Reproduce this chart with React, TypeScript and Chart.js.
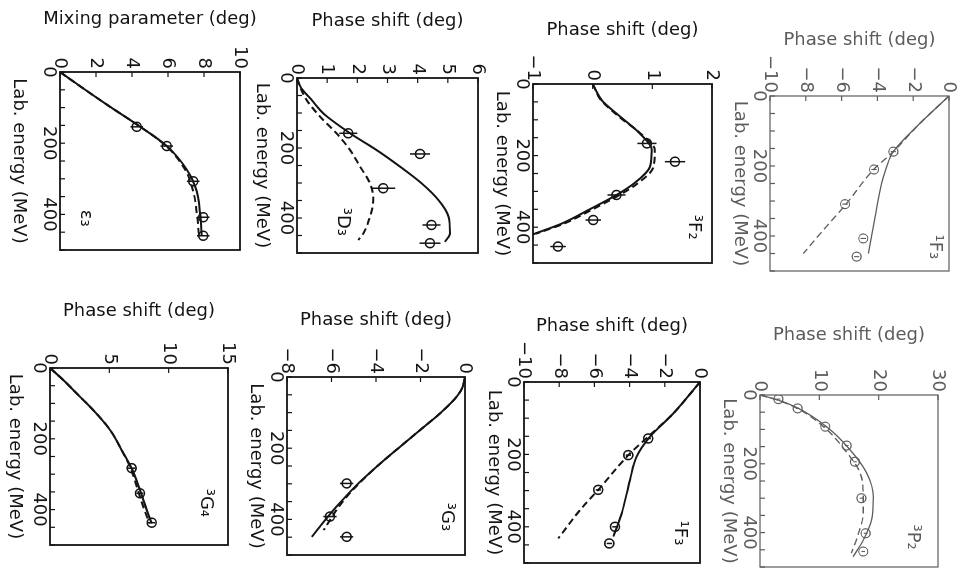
import React, { useEffect, useRef } from 'react';
import { Chart, registerables } from 'chart.js';

Chart.register(...registerables);

type Pt = [number, number];
type ErrPt = [number, number, number];

// ---------- shared axis data ----------
const ENERGY_MIN = 0;
const ENERGY_MAX = 500;
const ENERGY_STEP = 50;
const ENERGY_LABELS = [0, 200, 400];

// ---------- ε3 ----------
const eps3Solid: Pt[] = [[0, 0], [50, 1.4], [100, 2.85], [147, 4.26], [208, 5.93], [274, 7.04], [335, 7.6], [396, 7.78], [460, 7.87]];
const eps3Dashed: Pt[] = [[0, 0], [50, 1.4], [100, 2.85], [147, 4.26], [208, 5.9], [274, 6.95], [335, 7.4], [396, 7.6], [460, 7.72]];
const eps3Points: ErrPt[] = [[154, 4.26, 0.35], [208, 5.93, 0.35], [307, 7.4, 0.35], [408, 7.96, 0.35], [460, 7.96, 0.35]];

// ---------- 3D3 ----------
const d3Solid: Pt[] = [[0, 0], [30, 0.15], [63, 0.49], [101, 0.87], [158, 1.76], [206, 2.64], [253, 3.41], [301, 4.13], [349, 4.69], [396, 5.02], [444, 5.07], [468, 4.9]];
const d3Dashed: Pt[] = [[0, 0], [30, 0.12], [63, 0.32], [110, 0.76], [158, 1.31], [206, 1.76], [253, 2.09], [301, 2.42], [349, 2.53], [396, 2.42], [444, 2.2], [463, 2.03]];
const d3Points: ErrPt[] = [[158, 1.7, 0.3], [217, 4.08, 0.33], [315, 2.86, 0.4], [420, 4.46, 0.3], [472, 4.41, 0.35]];

// ---------- 3F2 ----------
const f2Solid: Pt[] = [[0, 0], [45, 0.15], [91, 0.46], [138, 0.79], [184, 0.99], [231, 0.96], [277, 0.7], [310, 0.4], [350, -0.05], [390, -0.52], [420, -1.0]];
const f2Dashed: Pt[] = [[0, 0], [45, 0.14], [91, 0.44], [138, 0.8], [184, 1.04], [231, 1.02], [277, 0.76], [310, 0.45], [350, 0.0], [390, -0.48], [418, -0.95]];
const f2Points: ErrPt[] = [[166, 0.91, 0.16], [217, 1.38, 0.17], [310, 0.4, 0.15], [380, 0.01, 0.13], [454, -0.58, 0.13]];

// ---------- 1F3 (upper) ----------
const f3aSolid: Pt[] = [[0, 0], [78, -1.62], [159, -3.11], [202, -3.48], [269, -3.85], [345, -4.13], [450, -4.51]];
const f3aDashed: Pt[] = [[0, 0], [78, -1.62], [159, -3.11], [211, -4.23], [307, -5.72], [383, -7.02], [450, -8.14]];
const f3aPoints: ErrPt[] = [[159, -3.11, 0.15], [210, -4.19, 0.15], [309, -5.81, 0.15], [407, -4.79, 0.15], [459, -5.16, 0.15]];

// ---------- 3G4 ----------
const g4Solid: Pt[] = [[0, 0], [34, 1.12], [72, 2.25], [119, 3.65], [175, 5.06], [241, 6.18], [283, 6.88], [345, 7.58], [401, 8.15], [439, 8.57]];
const g4Dashed: Pt[] = [[0, 0], [34, 1.12], [72, 2.25], [119, 3.65], [175, 5.06], [241, 6.18], [283, 6.8], [345, 7.4], [401, 7.95], [439, 8.4]];
const g4Points: ErrPt[] = [[283, 6.88, 0.3], [354, 7.58, 0.3], [437, 8.57, 0.3]];

// ---------- 3G3 ----------
const g3Solid: Pt[] = [[0, 0], [30, -0.12], [55, -0.37], [102, -1.12], [149, -2.02], [196, -2.92], [252, -3.97], [308, -4.94], [364, -5.77], [420, -6.52], [449, -6.89]];
const g3Dashed: Pt[] = [[0, 0], [30, -0.12], [55, -0.37], [102, -1.12], [149, -2.02], [196, -2.92], [252, -3.97], [308, -4.9], [350, -5.5], [400, -6.05], [430, -6.35]];
const g3Points: ErrPt[] = [[299, -5.32, 0.3], [392, -6.07, 0.3], [449, -5.32, 0.3]];

// ---------- 1F3 (lower) ----------
const f3bSolid: Pt[] = [[0, 0], [87, -1.52], [105, -1.89], [151, -2.84], [206, -3.6], [271, -3.98], [363, -4.45], [427, -4.92]];
const f3bDashed: Pt[] = [[0, 0], [87, -1.52], [151, -2.94], [202, -4.07], [298, -5.78], [354, -6.82], [432, -8.05]];
const f3bPoints: ErrPt[] = [[156, -2.94, 0.15], [202, -4.07, 0.15], [298, -5.78, 0.15], [400, -4.83, 0.15], [446, -5.15, 0.15]];

// ---------- 3P2 ----------
const p2Solid: Pt[] = [[0, 0], [15, 3.1], [39, 6.5], [92, 11.2], [160, 15.2], [228, 18.0], [296, 19.1], [363, 18.8], [422, 17.4], [470, 15.7]];
const p2Dashed: Pt[] = [[0, 0], [15, 3.0], [39, 6.3], [92, 10.7], [160, 14.3], [228, 16.9], [296, 17.4], [344, 17.4], [402, 16.6], [460, 15.4]];
const p2Points: ErrPt[] = [[12, 3.1, 0.3], [39, 6.35, 0.3], [92, 11.0, 0.3], [147, 14.6, 0.3], [194, 16.0, 0.3], [300, 17.1, 0.3], [402, 17.8, 0.3], [455, 17.4, 0.3]];

const PHASE_TITLE = 'Phase shift (deg)';
const MIX_TITLE = 'Mixing parameter (deg)';
const ENERGY_TITLE = 'Lab. energy (MeV)';

// ---------- layout (unrotated figure coordinates) ----------
const L = 72;
const T = 30;
const R = 14;
const B = 55;
const FONT = '"DejaVu Sans", "Liberation Sans", sans-serif';
const TITLE_SIZE = 18;
const TITLE_HALF = (TITLE_SIZE * 1.2) / 2;

const PANELS = [
  { key: 'eps3', title: MIX_TITLE, label: 'ε₃', labelAt: [411, 1.44], yMin: 0, yMax: 10, yStep: 2, solid: eps3Solid, dashed: eps3Dashed, points: eps3Points, area: { l: 72, r: 250, t: 733, b: 913 }, yGap: 53, xGap: 41, faded: false },
  { key: 'd3', title: PHASE_TITLE, label: '³D₃', labelAt: [411, 1.5], yMin: 0, yMax: 6, yStep: 1, solid: d3Solid, dashed: d3Dashed, points: d3Points, area: { l: 78, r: 253, t: 495, b: 676 }, yGap: 57, xGap: 35, faded: false },
  { key: 'f2', title: PHASE_TITLE, label: '³F₂', labelAt: [400, 1.7], yMin: -1, yMax: 2, yStep: 1, solid: f2Solid, dashed: f2Dashed, points: f2Points, area: { l: 84, r: 263, t: 261, b: 440 }, yGap: 54, xGap: 31, faded: false },
  { key: 'f3a', title: PHASE_TITLE, label: '¹F₃', labelAt: [431, -0.78], yMin: -10, yMax: 0, yStep: 2, solid: f3aSolid, dashed: f3aDashed, points: f3aPoints, area: { l: 96, r: 271, t: 24, b: 203 }, yGap: 56, xGap: 30, faded: true },
  { key: 'g4', title: PHASE_TITLE, label: '³G₄', labelAt: [381, 13.1], yMin: 0, yMax: 15, yStep: 5, solid: g4Solid, dashed: g4Dashed, points: g4Points, area: { l: 368, r: 545, t: 745, b: 923 }, yGap: 57, xGap: 35, faded: false },
  { key: 'g3', title: PHASE_TITLE, label: '³G₃', labelAt: [393, -0.81], yMin: -8, yMax: 0, yStep: 2, solid: g3Solid, dashed: g3Dashed, points: g3Points, area: { l: 377, r: 555, t: 508, b: 686 }, yGap: 57, xGap: 31, faded: false },
  { key: 'f3b', title: PHASE_TITLE, label: '¹F₃', labelAt: [417, -1.14], yMin: -10, yMax: 0, yStep: 2, solid: f3bSolid, dashed: f3bDashed, points: f3bPoints, area: { l: 382, r: 563, t: 273, b: 449 }, yGap: 56, xGap: 30, faded: false },
  { key: 'p2', title: PHASE_TITLE, label: '³P₂', labelAt: [413, 25.8], yMin: 0, yMax: 30, yStep: 10, solid: p2Solid, dashed: p2Dashed, points: p2Points, area: { l: 395, r: 567, t: 35, b: 213 }, yGap: 60, xGap: 31, faded: true },
];

const fmt = (v: number) => (v < 0 ? '\u2212' + String(Math.abs(v)) : String(v));

const decor = {
  id: 'decor',
  afterDatasetsDraw(chart: any, _args: any, opts: any) {
    const { ctx, chartArea: a, scales } = chart;
    const xs = scales.x;
    const ys = scales.y;
    ctx.save();
    ctx.strokeStyle = opts.ink;
    ctx.lineWidth = opts.frameWidth;
    ctx.strokeRect(a.left, a.top, a.right - a.left, a.bottom - a.top);
    ctx.lineWidth = 1.2;
    xs.ticks.forEach((t: any) => {
      const px = xs.getPixelForValue(t.value);
      ctx.beginPath();
      ctx.moveTo(px, a.bottom);
      ctx.lineTo(px, a.bottom - 5);
      ctx.stroke();
    });
    ys.ticks.forEach((t: any) => {
      const py = ys.getPixelForValue(t.value);
      ctx.beginPath();
      ctx.moveTo(a.left, py);
      ctx.lineTo(a.left + 5, py);
      ctx.stroke();
    });
    ctx.lineWidth = opts.errWidth;
    chart.data.datasets.forEach((ds: any) => {
      if (!ds.errs) return;
      ds.data.forEach((p: any, i: number) => {
        const e = ds.errs[i];
        const px = xs.getPixelForValue(p.x);
        ctx.beginPath();
        ctx.moveTo(px, ys.getPixelForValue(p.y - e));
        ctx.lineTo(px, ys.getPixelForValue(p.y + e));
        ctx.stroke();
      });
    });
    ctx.fillStyle = opts.ink;
    ctx.font = `18px ${FONT}`;
    ctx.textAlign = 'center';
    ctx.textBaseline = 'middle';
    ctx.fillText(opts.label, xs.getPixelForValue(opts.labelE), ys.getPixelForValue(opts.labelV));
    ctx.restore();
  },
};

function Panel({ p }: { p: any }) {
  const ref = useRef<HTMLCanvasElement>(null);
  const w = p.area.r - p.area.l + L + R;
  const h = p.area.b - p.area.t + T + B;

  useEffect(() => {
    if (!ref.current) return;
    const ink = p.faded ? '#5c5c5c' : '#141414';
    const lw = p.faded ? 1.3 : 2;
    const chart = new Chart(ref.current, {
      type: 'scatter',
      data: {
        datasets: [
          {
            data: p.solid.map(([x, y]: Pt) => ({ x, y })),
            showLine: true,
            borderColor: ink,
            borderWidth: lw,
            pointRadius: 0,
            cubicInterpolationMode: 'monotone',
          },
          {
            data: p.dashed.map(([x, y]: Pt) => ({ x, y })),
            showLine: true,
            borderColor: ink,
            borderWidth: lw,
            borderDash: [7, 4],
            pointRadius: 0,
            cubicInterpolationMode: 'monotone',
          },
          {
            data: p.points.map(([x, y]: ErrPt) => ({ x, y })),
            errs: p.points.map((q: ErrPt) => q[2]),
            showLine: false,
            pointRadius: 4.5,
            pointBorderWidth: p.faded ? 1.2 : 1.6,
            pointBorderColor: ink,
            pointBackgroundColor: 'rgba(0,0,0,0)',
          } as any,
        ],
      },
      options: {
        animation: false,
        responsive: false,
        events: [],
        layout: { padding: { left: 0, top: T, right: R, bottom: 0 } },
        plugins: {
          legend: { display: false },
          tooltip: { enabled: false },
          decor: {
            ink,
            frameWidth: p.faded ? 1.2 : 1.8,
            errWidth: p.faded ? 1.1 : 1.5,
            label: p.label,
            labelE: p.labelAt[0],
            labelV: p.labelAt[1],
          },
        } as any,
        scales: {
          x: {
            type: 'linear',
            position: 'bottom',
            min: ENERGY_MIN,
            max: ENERGY_MAX,
            afterFit: (s: any) => {
              s.height = B;
            },
            ticks: {
              stepSize: ENERGY_STEP,
              autoSkip: false,
              maxRotation: 0,
              minRotation: 0,
              padding: 2,
              color: ink,
              font: { family: FONT, size: 18, lineHeight: 1 },
              callback: (v: any) => (ENERGY_LABELS.includes(Number(v)) ? String(v) : ''),
            },
            grid: { display: false, drawTicks: false },
            border: { display: false },
            title: {
              display: true,
              text: ENERGY_TITLE,
              color: ink,
              font: { family: FONT, size: TITLE_SIZE },
              padding: { top: 0, bottom: Math.max(0, B - p.xGap - TITLE_HALF) },
            },
          },
          y: {
            type: 'linear',
            position: 'left',
            min: p.yMin,
            max: p.yMax,
            afterFit: (s: any) => {
              s.width = L;
            },
            ticks: {
              stepSize: p.yStep,
              autoSkip: false,
              padding: 3,
              color: ink,
              font: { family: FONT, size: 18, lineHeight: 1 },
              callback: (v: any) => fmt(Number(v)),
            },
            grid: { display: false, drawTicks: false },
            border: { display: false },
            title: {
              display: true,
              text: p.title,
              color: ink,
              font: { family: FONT, size: TITLE_SIZE },
              padding: { top: Math.max(0, L - p.yGap - TITLE_HALF), bottom: 0 },
            },
          },
        },
      } as any,
      plugins: [decor],
    });
    return () => chart.destroy();
  }, []);

  return (
    <canvas
      ref={ref}
      width={w}
      height={h}
      style={{ position: 'absolute', left: p.area.l - L, top: p.area.t - T, width: w, height: h, display: 'block' }}
    />
  );
}

export default function App() {
  return (
    <div
      style={{
        position: 'fixed',
        left: 0,
        top: 0,
        width: 571,
        height: 973,
        transformOrigin: '0 0',
        transform: 'translate(973px, 0px) rotate(90deg)',
        background: '#ffffff',
      }}
    >
      {PANELS.map((p) => (
        <Panel key={p.key} p={p} />
      ))}
    </div>
  );
}
